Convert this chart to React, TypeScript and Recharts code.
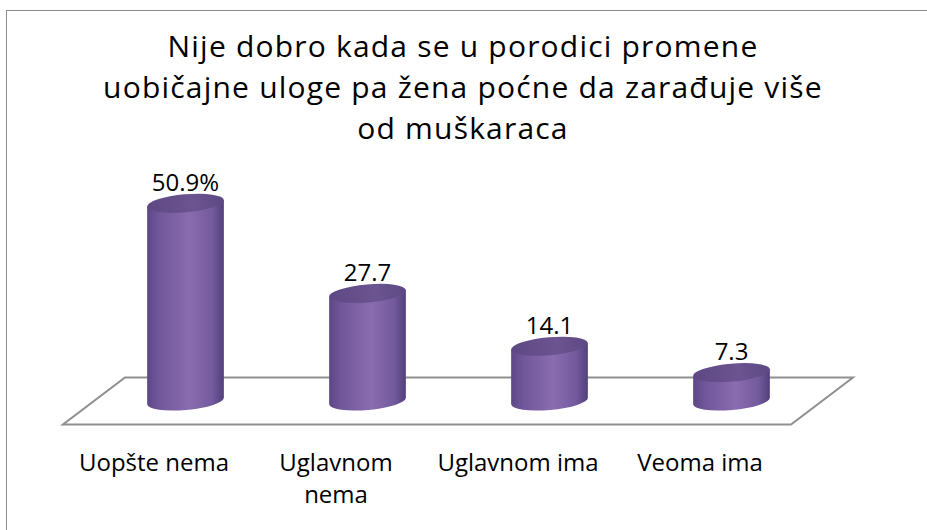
import { BarChart, Bar, XAxis, YAxis, LabelList } from 'recharts';

const categories = ['Uopšte nema', 'Uglavnom nema', 'Uglavnom ima', 'Veoma ima'];
const tickLines = [['Uopšte nema'], ['Uglavnom', 'nema'], ['Uglavnom ima'], ['Veoma ima']];
const values = [50.9, 27.7, 14.1, 7.3];
const valueSuffix = ['%', '', '', ''];
const titleLines = [
  'Nije dobro kada se u porodici promene',
  'uobičajne uloge pa žena poćne da zarađuje više',
  'od muškaraca',
];

const W = 927;
const H = 530;
const FONT = '"Open Sans", sans-serif';
const AXIS_H = 30;
const margin = { top: 168, right: 105, bottom: 129 - AXIS_H, left: 94 };
const SKEW = 31; // floor depth, horizontal
const DEPTH = 23.5; // floor depth, vertical
const RY = 9;
const TILT = -5;

const data = categories.map((name, i) => ({ name, value: values[i] }));

function Cylinder(props: any) {
  const { x, y, width, height } = props;
  if (width == null || height == null) return null;
  const rx = width / 2;
  const cx = x + rx;
  const a = (TILT * Math.PI) / 180;
  const dx = rx * Math.cos(a);
  const dy = rx * Math.sin(a);
  const yb = y + height;
  const d = `M ${cx - dx} ${y - dy} L ${cx - dx} ${yb - dy} A ${rx} ${RY} ${TILT} 0 0 ${cx + dx} ${yb + dy} L ${cx + dx} ${y + dy} Z`;
  return (
    <g>
      <path d={d} fill="url(#cylBody)" />
      <ellipse cx={cx} cy={y} rx={rx} ry={RY} transform={`rotate(${TILT} ${cx} ${y})`} fill="url(#cylTop)" />
    </g>
  );
}

function ValueLabel(props: any) {
  const { x, y, width, index, value } = props;
  return (
    <text x={x + width / 2} y={y - 22} textAnchor="middle" dominantBaseline="central"
      fontFamily={FONT} fontSize={24} fill="#000">
      {`${value}${valueSuffix[index]}`}
    </text>
  );
}

function CategoryTick(props: any) {
  const { x, y, index } = props;
  const lines = tickLines[index] || [];
  return (
    <text x={x - SKEW} y={y} textAnchor="middle" fontFamily={FONT} fontSize={24} fill="#000">
      {lines.map((l, i) => (
        <tspan key={i} x={x - SKEW} y={y + 52 + i * 32} dominantBaseline="central">{l}</tspan>
      ))}
    </text>
  );
}

export default function App() {
  const plotL = margin.left;
  const plotR = W - margin.right;
  const base = H - margin.bottom - AXIS_H;
  const floor = [
    [plotL + SKEW, base - DEPTH],
    [plotR + SKEW, base - DEPTH],
    [plotR - SKEW, base + DEPTH],
    [plotL - SKEW, base + DEPTH],
  ].map(p => p.join(',')).join(' ');

  return (
    <div style={{ position: 'absolute', left: 0, top: 0, width: W, height: H, overflow: 'hidden', background: '#fff' }}>
      <div style={{
        position: 'absolute', left: 6, top: 10, width: W, height: H,
        borderLeft: '1px solid #8c8c8c', borderTop: '1px solid #8c8c8c',
      }} />
      <svg width={W} height={H} style={{ position: 'absolute', left: 0, top: 0 }}>
        <polygon points={floor} fill="none" stroke="#8f8f8f" strokeWidth={2} />
      </svg>
      <div style={{
        position: 'absolute', left: 0, top: 25, width: W - 1, textAlign: 'center',
        fontFamily: FONT, fontSize: 30, lineHeight: '41px', letterSpacing: '1.2px', color: '#000',
      }}>
        {titleLines.map((l, i) => <div key={i}>{l}</div>)}
      </div>
      <div style={{ position: 'absolute', left: 0, top: 0 }}>
        <BarChart width={W} height={H} data={data} margin={margin} barSize={77}>
          <defs>
            <linearGradient id="cylBody" x1="0" y1="0" x2="1" y2="0">
              <stop offset="0%" stopColor="#5d4786" />
              <stop offset="15%" stopColor="#70569a" />
              <stop offset="55%" stopColor="#8a6cb0" />
              <stop offset="85%" stopColor="#725a9c" />
              <stop offset="100%" stopColor="#52407a" />
            </linearGradient>
            <linearGradient id="cylTop" x1="0" y1="0" x2="1" y2="0">
              <stop offset="0%" stopColor="#5e4883" />
              <stop offset="60%" stopColor="#6b548f" />
              <stop offset="100%" stopColor="#5e4985" />
            </linearGradient>
          </defs>
          <XAxis dataKey="name" height={AXIS_H} axisLine={false} tickLine={false} interval={0} tick={<CategoryTick />} />
          <YAxis hide domain={[0, 60]} />
          <Bar dataKey="value" shape={<Cylinder />} isAnimationActive={false}>
            <LabelList dataKey="value" content={<ValueLabel />} />
          </Bar>
        </BarChart>
      </div>
    </div>
  );
}
